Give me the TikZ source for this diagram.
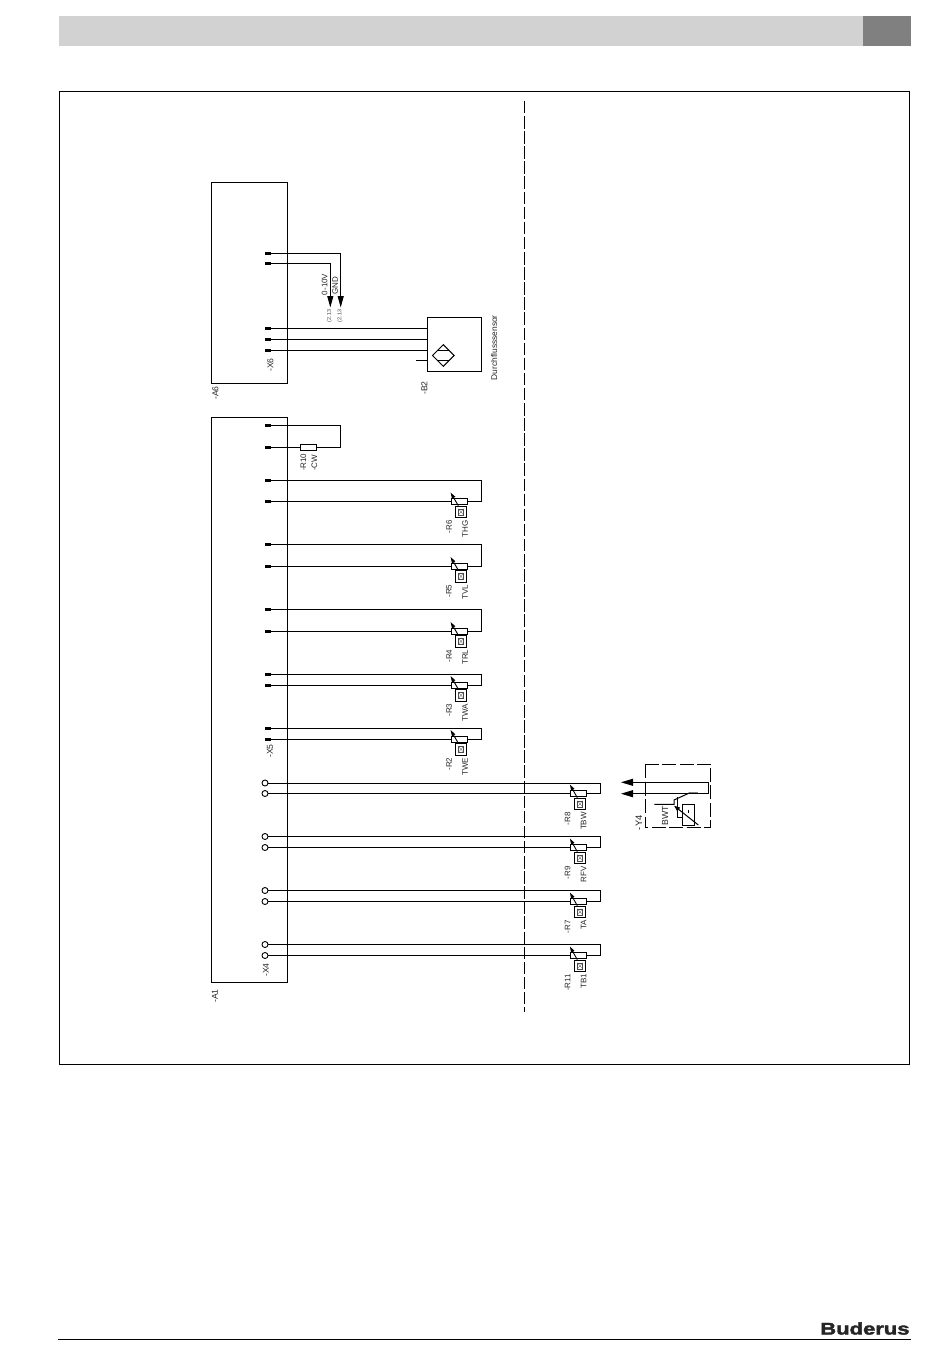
\documentclass[tikz,border=0pt]{standalone}
\usepackage{fontspec}
\setmainfont{Liberation Sans}
\usetikzlibrary{arrows.meta,shapes.geometric}
\definecolor{barlight}{HTML}{D2D2D2}
\definecolor{bardark}{HTML}{808080}
\tikzset{
  wire/.style={line width=1pt},
  box/.style={draw,line width=1pt,inner sep=0pt,minimum width=#1},
  termbar/.style={fill=black,inner sep=0pt,minimum width=6pt,minimum height=3pt},
  termring/.style={circle,draw,line width=.9pt,inner sep=0pt,minimum size=6pt},
  sensrect/.style={rectangle,draw,line width=.9pt,inner sep=0pt,minimum width=16.3pt,minimum height=6pt},
  senssq/.style={rectangle,draw,line width=.9pt,inner sep=0pt,minimum size=11.4pt,
    path picture={
      \draw[line width=.3pt,black!70] ([shift={(-2.6pt,-3pt)}]path picture bounding box.center) rectangle ([shift={(2.6pt,3pt)}]path picture bounding box.center);
      \draw[line width=.25pt,black!70] ([shift={(-2.6pt,-3pt)}]path picture bounding box.center) to ([shift={(2.6pt,3pt)}]path picture bounding box.center);
      \draw[line width=.25pt,black!70] ([shift={(-2.6pt,3pt)}]path picture bounding box.center) to ([shift={(2.6pt,-3pt)}]path picture bounding box.center);
    }},
  sensarrow/.style={line width=.9pt,-{Triangle[length=6pt,width=3.6pt]}},
  bigarrow/.style={line width=1pt,-{Triangle[length=11.5pt,width=6pt]}},
  lefthead/.style={line width=1pt,-{Triangle[length=12pt,width=7pt]}},
  lbl/.style={rotate=90,inner sep=0pt,font=\fontsize{8}{8}\selectfont,text=black!85},
  biglbl/.style={rotate=90,inner sep=0pt,font=\fontsize{8.6}{9}\selectfont,text=black!85},
  tinylbl/.style={rotate=90,inner sep=0pt,font=\fontsize{5.4}{6}\selectfont,text=black!75}
}
\begin{document}
\begin{tikzpicture}[x=1pt,y=-1pt]
  \useasboundingbox (0,0) rectangle (950,1367);
  %%page head and foot
  \fill[barlight] (59,16) rectangle (863,46);
  \fill[bardark] (863,16) rectangle (911,46);
  \draw[line width=.9pt] (59.5,91.5) rectangle (909.5,1064.5);
  \draw[line width=1pt] (58,1339.3) to (911,1339.3);
  \node[anchor=base west,inner sep=0pt,xscale=1.31,text=black!85,font=\fontsize{16.8}{17}\selectfont\bfseries] (logo) at (820,1334.5) {\special{pdf:literal 2 Tr 0.35 w}Buderus\special{pdf:literal 0 Tr}};
  \coordinate (septop) at (524.5,101);
  \coordinate (sepbot) at (524.5,1012);
  \draw[line width=1pt,dash pattern=on 12.5pt off 2.6pt] (septop) to (sepbot);

  %%a6
  \node[box=76.5pt,minimum height=201pt] (a6) at (249.3,283) {};
  \node[biglbl] (a6l) at (215.5,393) {-A6};
  \node[biglbl] (x6l) at (270.3,365) {-X6};
  \node[termbar] (x6a) at (268,253) {};
  \node[termbar] (x6b) at (268,263.5) {};
  \node[termbar] (x6c) at (268,328.3) {};
  \node[termbar] (x6d) at (268,339.3) {};
  \node[termbar] (x6e) at (268,350) {};
  \coordinate (gnd) at (340.7,307.5);
  \coordinate (vout) at (330.3,307.5);
  \draw[bigarrow] (x6a.east) -| (gnd);
  \draw[bigarrow] (x6b.east) -| (vout);
  \node[lbl,anchor=east] (voutl) at (324.5,273.5) {0-10V};
  \node[lbl,anchor=east] (gndl) at (335,276.5) {GND};
  \node[tinylbl] (voutr) at (329.5,316) {(2.13};
  \node[tinylbl] (gndr) at (340,316) {(2.13};

  %%b2
  \node[box=54.4pt,minimum height=54.4pt] (b2) at (454.5,344.5) {};
  \draw[wire] (x6c.east) to (x6c.east -| b2.west);
  \draw[wire] (x6d.east) to (x6d.east -| b2.west);
  \draw[wire] (x6e.east) to (x6e.east -| b2.west);
  \coordinate (b2stub) at (416,360.3);
  \draw[wire] (b2stub) to (b2stub -| b2.west);
  \node[diamond,draw,line width=.9pt,inner sep=0pt,minimum size=22pt] (b2d) at (443.3,355.5) {};
  \draw[line width=.9pt] (438,350) to (448.6,350);
  \draw[line width=.9pt] (438,360.5) to (448.6,360.5);
  \node[biglbl] (b2l) at (424.3,388) {-B2};
  \node[lbl,anchor=east,font=\fontsize{8.4}{9}\selectfont] (b2n) at (494,315) {Durchflusssensor};

  %%a1
  \node[box=76pt,minimum height=565pt] (a1) at (249,700) {};
  \node[biglbl] (a1l) at (215,996) {-A1};
  \node[biglbl] (x5l) at (270,751) {-X5};
  \node[biglbl] (x4l) at (266,970) {-X4};

  %%r10
  \node[termbar] (r10a) at (268,425) {};
  \node[termbar] (r10b) at (268,447.3) {};
  \node[sensrect] (r10) at (308.5,447.3) {};
  \coordinate (r10c) at (340.5,425);
  \coordinate (r10d) at (340.5,447.3);
  \draw[wire] (r10a.east) to (r10c) to (r10d) to (r10.east);
  \draw[wire] (r10b.east) to (r10.west);
  \node[lbl] (r10l) at (303.3,462.3) {-R10};
  \node[lbl] (r10n) at (314.3,463) {-CW};

  %%r6
  \node[termbar] (r6a) at (268,480) {};
  \node[termbar] (r6b) at (268,501.5) {};
  \node[sensrect] (r6) at (459.2,501.5) {};
  \node[senssq] (r6s) at (461,511.8) {};
  \coordinate (r6c) at (481.3,480);
  \coordinate (r6d) at (481.3,501.5);
  \draw[wire] (r6a.east) to (r6c) to (r6d) to (r6.east);
  \draw[wire] (r6b.east) to (r6.west);
  \draw[sensarrow] ([xshift=-2.7pt]r6s.north) to ([yshift=5.5pt]r6.north west);
  \node[lbl,anchor=east] (r6l) at (449,520) {-R6};
  \node[lbl,anchor=east] (r6n) at (465,520) {THG};

  %%r5
  \node[termbar] (r5a) at (268,544.5) {};
  \node[termbar] (r5b) at (268,566) {};
  \node[sensrect] (r5) at (459.2,566) {};
  \node[senssq] (r5s) at (461,576.3) {};
  \coordinate (r5c) at (481.3,544.5);
  \coordinate (r5d) at (481.3,566);
  \draw[wire] (r5a.east) to (r5c) to (r5d) to (r5.east);
  \draw[wire] (r5b.east) to (r5.west);
  \draw[sensarrow] ([xshift=-2.7pt]r5s.north) to ([yshift=5.5pt]r5.north west);
  \node[lbl,anchor=east] (r5l) at (449,584.5) {-R5};
  \node[lbl,anchor=east] (r5n) at (465,584.5) {TVL};

  %%r4
  \node[termbar] (r4a) at (268,609) {};
  \node[termbar] (r4b) at (268,631) {};
  \node[sensrect] (r4) at (459.2,631) {};
  \node[senssq] (r4s) at (461,641.3) {};
  \coordinate (r4c) at (481.3,609);
  \coordinate (r4d) at (481.3,631);
  \draw[wire] (r4a.east) to (r4c) to (r4d) to (r4.east);
  \draw[wire] (r4b.east) to (r4.west);
  \draw[sensarrow] ([xshift=-2.7pt]r4s.north) to ([yshift=5.5pt]r4.north west);
  \node[lbl,anchor=east] (r4l) at (449,649.5) {-R4};
  \node[lbl,anchor=east] (r4n) at (465,649.5) {TRL};

  %%r3
  \node[termbar] (r3a) at (268,674) {};
  \node[termbar] (r3b) at (268,685) {};
  \node[sensrect] (r3) at (459.2,685) {};
  \node[senssq] (r3s) at (461,695.3) {};
  \coordinate (r3c) at (481.3,674);
  \coordinate (r3d) at (481.3,685);
  \draw[wire] (r3a.east) to (r3c) to (r3d) to (r3.east);
  \draw[wire] (r3b.east) to (r3.west);
  \draw[sensarrow] ([xshift=-2.7pt]r3s.north) to ([yshift=5.5pt]r3.north west);
  \node[lbl,anchor=east] (r3l) at (449,703.5) {-R3};
  \node[lbl,anchor=east] (r3n) at (465,703.5) {TWA};

  %%r2
  \node[termbar] (r2a) at (268,728) {};
  \node[termbar] (r2b) at (268,739) {};
  \node[sensrect] (r2) at (459.2,739) {};
  \node[senssq] (r2s) at (461,749.3) {};
  \coordinate (r2c) at (481.3,728);
  \coordinate (r2d) at (481.3,739);
  \draw[wire] (r2a.east) to (r2c) to (r2d) to (r2.east);
  \draw[wire] (r2b.east) to (r2.west);
  \draw[sensarrow] ([xshift=-2.7pt]r2s.north) to ([yshift=5.5pt]r2.north west);
  \node[lbl,anchor=east] (r2l) at (449,757.5) {-R2};
  \node[lbl,anchor=east] (r2n) at (465,757.5) {TWE};

  %%r8
  \node[termring] (r8a) at (265,783) {};
  \node[termring] (r8b) at (265,793.5) {};
  \node[sensrect] (r8) at (578.5,793.5) {};
  \node[senssq] (r8s) at (580,803.8) {};
  \coordinate (r8c) at (600.4,783);
  \coordinate (r8d) at (600.4,793.5);
  \draw[wire] (r8a.east) to (r8c) to (r8d) to (r8.east);
  \draw[wire] (r8b.east) to (r8.west);
  \draw[sensarrow] ([xshift=-2.7pt]r8s.north) to ([yshift=5.5pt]r8.north west);
  \node[lbl,anchor=east] (r8l) at (567.7,812) {-R8};
  \node[lbl,anchor=east] (r8n) at (583.7,812) {TBW};

  %%r9
  \node[termring] (r9a) at (265,836.5) {};
  \node[termring] (r9b) at (265,847.5) {};
  \node[sensrect] (r9) at (578.5,847.5) {};
  \node[senssq] (r9s) at (580,857.8) {};
  \coordinate (r9c) at (600.4,836.5);
  \coordinate (r9d) at (600.4,847.5);
  \draw[wire] (r9a.east) to (r9c) to (r9d) to (r9.east);
  \draw[wire] (r9b.east) to (r9.west);
  \draw[sensarrow] ([xshift=-2.7pt]r9s.north) to ([yshift=5.5pt]r9.north west);
  \node[lbl,anchor=east] (r9l) at (567.7,866) {-R9};
  \node[lbl,anchor=east] (r9n) at (583.7,866) {RFV};

  %%r7
  \node[termring] (r7a) at (265,890.5) {};
  \node[termring] (r7b) at (265,901.5) {};
  \node[sensrect] (r7) at (578.5,901.5) {};
  \node[senssq] (r7s) at (580,911.8) {};
  \coordinate (r7c) at (600.4,890.5);
  \coordinate (r7d) at (600.4,901.5);
  \draw[wire] (r7a.east) to (r7c) to (r7d) to (r7.east);
  \draw[wire] (r7b.east) to (r7.west);
  \draw[sensarrow] ([xshift=-2.7pt]r7s.north) to ([yshift=5.5pt]r7.north west);
  \node[lbl,anchor=east] (r7l) at (567.7,920) {-R7};
  \node[lbl,anchor=east] (r7n) at (583.7,920) {TA};

  %%r11
  \node[termring] (r11a) at (265,944.5) {};
  \node[termring] (r11b) at (265,955.5) {};
  \node[sensrect] (r11) at (578.5,955.5) {};
  \node[senssq] (r11s) at (580,965.8) {};
  \coordinate (r11c) at (600.4,944.5);
  \coordinate (r11d) at (600.4,955.5);
  \draw[wire] (r11a.east) to (r11c) to (r11d) to (r11.east);
  \draw[wire] (r11b.east) to (r11.west);
  \draw[sensarrow] ([xshift=-2.7pt]r11s.north) to ([yshift=5.5pt]r11.north west);
  \node[lbl,anchor=east] (r11l) at (567.7,974) {-R11};
  \node[lbl,anchor=east] (r11n) at (583.7,974) {TB1};

  %%y4
  \draw[line width=1pt,dash pattern=on 14pt off 3.5pt] (645.3,764) rectangle (710.7,827.7);
  \coordinate (y4a) at (708.3,782.3);
  \coordinate (y4b) at (708.3,793.7);
  \coordinate (y4c) at (621,782.3);
  \coordinate (y4d) at (621,793.7);
  \draw[lefthead] (y4a) to (y4c);
  \draw[lefthead] (y4b) to (y4d);
  \draw[wire] (y4a) to (y4b);
  \draw[wire] (654.3,804.3) to (674,804.3) to (674,800) to (690,792.7);
  \draw[line width=1pt,black!50] (690,792.7) to (698,792.7);
  \node[rectangle,draw,line width=.9pt,inner sep=0pt,minimum width=11.7pt,minimum height=21.4pt] (bwt) at (688.2,815) {};
  \draw[line width=.9pt] (677.3,796.7) to (677.3,817) to (bwt.west |- 0,817);
  \draw[line width=.4pt] (688,810) to (688,813);
  \coordinate (bwtl) at (698.3,825);
  \coordinate (bwtt) at (674,805.7);
  \draw[line width=1pt,-{Triangle[length=6pt,width=4.4pt]}] (bwtl) to (bwtt);
  \node[biglbl,font=\fontsize{9.4}{9}\selectfont] (y4l) at (639,822.7) {-Y4};
  \node[biglbl,font=\fontsize{8.8}{9}\selectfont] (bwtn) at (665,816) {BWT};
\end{tikzpicture}
\end{document}
